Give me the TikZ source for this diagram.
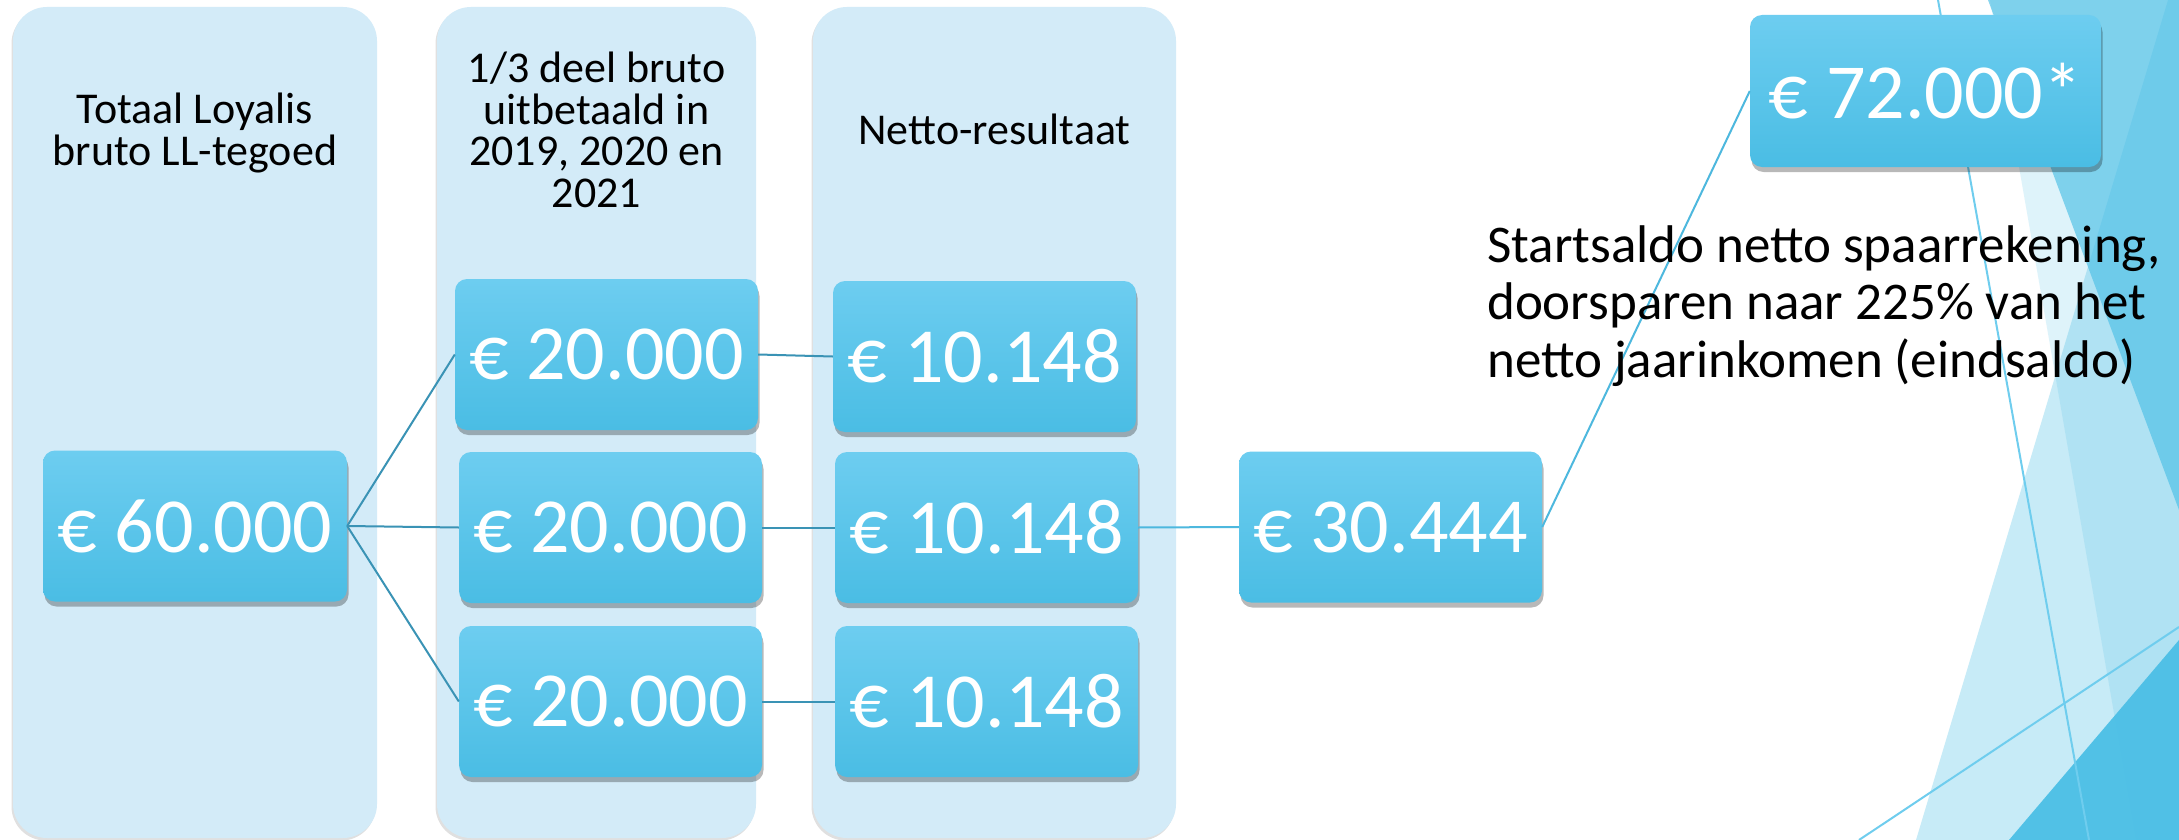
\documentclass[tikz,border=0pt]{standalone}
\usepackage{fontspec}
\setmainfont{Carlito}
\usetikzlibrary{shadows}
\definecolor{colfill}{HTML}{D3EBF8}
\definecolor{boxtop}{HTML}{6DCDF0}
\definecolor{boxbot}{HTML}{4ABDE4}
\definecolor{linkcol}{HTML}{3A93B5}
\definecolor{linklight}{HTML}{4DB8DE}
\definecolor{deco}{HTML}{4BBFE6}
\definecolor{decoline}{HTML}{6FCDEE}
\begin{document}
\begin{tikzpicture}[x=1pt,y=-1pt,
  colbox/.style={fill=colfill, rounded corners=34pt, inner sep=0pt, draw=none,
    drop shadow={shadow xshift=-1.5pt, shadow yshift=-2.5pt, fill=black, opacity=0.12}},
  valbox/.style={rounded corners=12pt, top color=boxtop, bottom color=boxbot, draw=none,
    text=white, font=\fontsize{78}{80}\selectfont, minimum height=151pt, inner sep=0pt,
    drop shadow={shadow xshift=1.5pt, shadow yshift=-5pt, fill=black, opacity=0.28}},
  hdr/.style={font=\fontsize{44}{41.5}\selectfont, align=center, inner sep=0pt, anchor=base, text=black},
  link/.style={draw=linkcol, line width=2pt},
  linkb/.style={draw=linklight, line width=2pt},
  decofill/.style={fill=deco, draw=none},
  decoln/.style={draw=decoline, line width=2pt}
]
\useasboundingbox (0,0) rectangle (2179,840);
\fill[white] (0,0) rectangle (2179,840);

% right-hand decoration
\fill[decofill, opacity=0.18] (1990,0) -- (2179,0) -- (2179,840) -- (2136,840) -- cycle;
\fill[decofill, opacity=0.31] (2168,0) -- (2179,0) -- (2179,840) -- (1916,840) -- cycle;
\fill[decofill, opacity=0.65] (1988,0) -- (2179,0) -- (2179,510) -- cycle;
\fill[decofill, opacity=0.95] (2009,840) -- (2179,640) -- (2179,840) -- cycle;
\coordinate (la1) at (1938,0);
\coordinate (la2) at (2089,840);
\coordinate (lb1) at (1859,840);
\coordinate (lb2) at (2179,627);
\draw[decoln] (la1) -- (la2);
\draw[decoln] (lb1) -- (lb2);

% columns
\node[colbox, minimum width=364pt, minimum height=831pt] (col1) at (195,422.5) {};
\node[colbox, minimum width=319pt, minimum height=831pt] (col2) at (596.5,422.5) {};
\node[colbox, minimum width=363pt, minimum height=831pt] (col3) at (994.5,422.5) {};

\node[hdr] (h1) at (195,165) {Totaal Loyalis\\bruto LL-tegoed};
\node[hdr] (h2) at (596.5,207) {1/3 deel bruto\\uitbetaald in\\2019, 2020 en\\2021};
\node[hdr] (h3) at (994.5,145) {Netto-resultaat};

% value boxes
\node[valbox, minimum width=304pt] (b60) at (195,526) {€ 60.000};
\node[valbox, minimum width=303pt] (t1) at (606.5,354.5) {€ 20.000};
\node[valbox, minimum width=303pt] (t2) at (610.5,527.5) {€ 20.000};
\node[valbox, minimum width=303pt] (t3) at (610.5,701.5) {€ 20.000};
\node[valbox, minimum width=303pt] (n1) at (984.5,356.5) {€ 10.148};
\node[valbox, minimum width=303pt] (n2) at (986.5,527.5) {€ 10.148};
\node[valbox, minimum width=303pt] (n3) at (986.5,701.5) {€ 10.148};
\node[valbox, minimum width=303pt] (s) at (1390.5,527) {€ 30.444};
\node[valbox, minimum width=351pt, minimum height=152pt] (f) at (1925.5,91) {€ 72.000*};

% connectors
\draw[link] (b60.east) -- (t1.west);
\draw[link] (b60.east) -- (t2.west);
\draw[link] (b60.east) -- (t3.west);
\draw[link] (t1.east) -- (n1.west);
\draw[link] (t2.east) -- (n2.west);
\draw[link] (t3.east) -- (n3.west);
\draw[linkb] (n2.east) -- (s.west);
\draw[linkb] (s.east) -- (f.west);

\node[font=\fontsize{53}{57.5}\selectfont, align=left, inner sep=0pt, anchor=base west] (txt) at (1487,377)
  {Startsaldo netto spaarrekening,\\doorsparen naar 225\% van het\\netto jaarinkomen (eindsaldo)};
\end{tikzpicture}
\end{document}
